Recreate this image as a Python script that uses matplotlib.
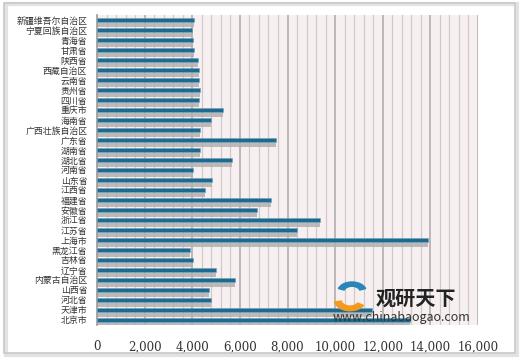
import matplotlib
matplotlib.use("Agg")
import matplotlib.pyplot as plt
from matplotlib.patches import Rectangle, Wedge
import numpy as np

plt.rcParams['font.family'] = ['Noto Sans CJK SC', 'DejaVu Sans']

# provinces, top to bottom as in the chart
provinces = ["新疆维吾尔自治区", "宁夏回族自治区", "青海省", "甘肃省", "陕西省", "西藏自治区",
             "云南省", "贵州省", "四川省", "重庆市", "海南省", "广西壮族自治区", "广东省",
             "湖南省", "湖北省", "河南省", "山东省", "江西省", "福建省", "安徽省", "浙江省",
             "江苏省", "上海市", "黑龙江省", "吉林省", "辽宁省", "内蒙古自治区", "山西省",
             "河北省", "天津市", "北京市"]
values = [4090, 3990, 4020, 4075, 4230, 4270, 4300, 4330, 4300, 5310, 4770, 4340, 7510,
          4340, 5660, 4030, 4850, 4540, 7310, 6740, 9370, 8380, 13890, 3910, 4030, 5000,
          5810, 4690, 4800, 11540, 13150]
xticks = [0, 2000, 4000, 6000, 8000, 10000, 12000, 14000, 16000]

fig = plt.figure(figsize=(5.2, 3.58), dpi=100)
fig.patch.set_facecolor("white")

# outer frame with a soft shadow
fig.patches.append(Rectangle((0.012, 0.008), 0.982, 0.982, transform=fig.transFigure,
                             facecolor="none", edgecolor="#e2e2e2", lw=3, zorder=0))
fig.patches.append(Rectangle((0.008, 0.013), 0.982, 0.978, transform=fig.transFigure,
                             facecolor="none", edgecolor="#c9c9c9", lw=1.2, zorder=0))

ax = fig.add_axes([97 / 520, 1 - 325 / 358, 381 / 520, 310 / 358])
ax.set_facecolor("#f8f0f0")

y = np.arange(len(provinces))

# vertical grid: minor every 400, darker every 2000
for gx in np.arange(400, 16001, 400):
    major = gx % 2000 == 0
    ax.axvline(gx, color="#a9a9a9" if major else "#cfcaca", lw=1.1 if major else 0.9, zorder=1)

# bar shadows then bars
ax.barh(y + 0.47, values, height=0.42, color="#b4b0b0", alpha=0.85, zorder=2)
ax.barh(y, values, height=0.44, color="#1c6a8f", edgecolor="#6f9fb8", lw=0.4, zorder=3)

ax.set_xlim(0, 16000)
ax.set_ylim(len(provinces) - 0.5, -0.5)
ax.set_xticks(xticks)
ax.set_xticklabels([f"{v:,}" for v in xticks], family="DejaVu Serif", fontsize=8.5, color="#333333")
ax.set_yticks(y)
ax.set_yticklabels(provinces, fontsize=6.4, color="#333333")
ax.tick_params(axis="both", length=0)
ax.tick_params(axis="x", pad=11)
ax.tick_params(axis="y", pad=7)
for s in ["top", "right", "bottom"]:
    ax.spines[s].set_visible(False)
ax.spines["left"].set_color("#9a9a9a")
ax.spines["left"].set_linewidth(1.2)

# watermark
fig.patches.append(Wedge((350 / 520, 1 - 300 / 358), 0.03, 190, 330, width=0.013,
                         transform=fig.transFigure, color="#f39a1e", zorder=5))
fig.patches.append(Wedge((352 / 520, 1 - 292 / 358), 0.028, 20, 160, width=0.012,
                         transform=fig.transFigure, color="#2a86b8", zorder=5))
fig.text(376 / 520, 1 - 298 / 358, "观研天下", fontsize=14.5, fontweight="bold",
         color="#222222", va="center", ha="left", zorder=6)
fig.text(333 / 520, 1 - 318 / 358, "www.chinabaogao.com", fontsize=9,
         color="#333333", va="center", ha="left", zorder=6)

fig.savefig("out.png", dpi=100)
